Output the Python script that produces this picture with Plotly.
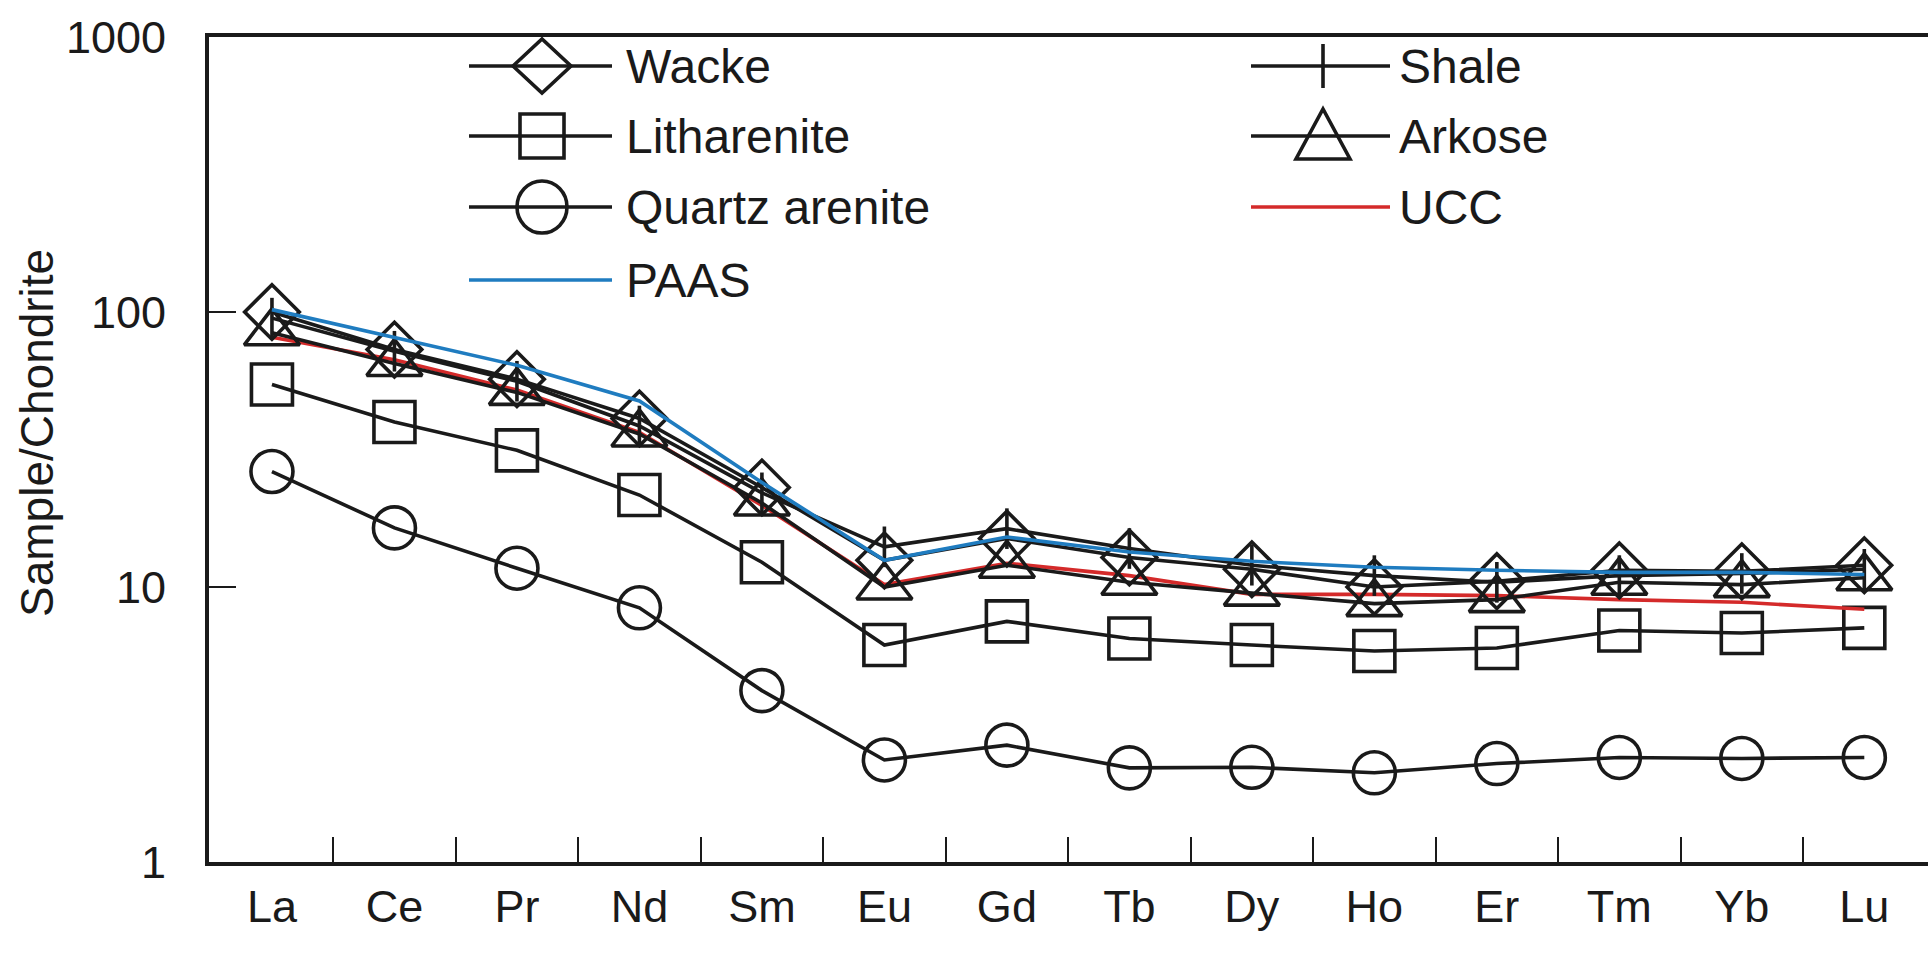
import plotly.graph_objects as go

# Chondrite-normalised REE values
elements = ["La", "Ce", "Pr", "Nd", "Sm", "Eu", "Gd", "Tb", "Dy", "Ho", "Er", "Tm", "Yb", "Lu"]

wacke = [100, 73, 57, 41, 23, 12.5, 15.0, 12.8, 11.6, 10.0, 10.5, 11.5, 11.4, 12.0]
shale = [95, 72, 56, 38.5, 22, 14.0, 16.3, 13.8, 12.0, 11.0, 10.4, 11.0, 11.2, 11.6]
arkose = [84, 65, 51, 36, 20.2, 10.0, 12.0, 10.4, 9.5, 8.7, 9.0, 10.4, 10.2, 10.8]
litharenite = [54.5, 39.8, 31.4, 21.6, 12.3, 6.15, 7.5, 6.5, 6.15, 5.85, 6.0, 6.95, 6.8, 7.1]
quartz_arenite = [26.3, 16.4, 11.7, 8.4, 4.2, 2.35, 2.66, 2.2, 2.21, 2.11, 2.28, 2.4, 2.38, 2.4]
ucc = [81, 67, 52, 36.5, 19.8, 10.2, 12.2, 11.0, 9.4, 9.4, 9.3, 9.0, 8.8, 8.3]
paas = [102, 81, 64, 47.5, 24, 12.5, 15.2, 13.4, 12.4, 11.8, 11.5, 11.3, 11.3, 11.1]

y_tick_values = [1, 10, 100, 1000]
y_tick_text = ["1", "10", "100", "1000"]

FONT = "Liberation Sans, Arial, Helvetica, sans-serif"
INK = "#1a1a1a"
BLUE = "#1f7cc0"
RED = "#d42a2a"

W, H = 1928, 959
L, R, T, B = 209, 0, 37, 97
PW, PH = W - L - R, H - T - B

LW = 3.6  # stroke width for lines and marker outlines

x_idx = list(range(len(elements)))

# series: name, values, plot symbol, marker size, line colour, legend glyph
series = [
    ("Quartz arenite", quartz_arenite, "circle-open", 42, INK, "circle"),
    ("Litharenite", litharenite, "square-open", 41, INK, "square"),
    ("UCC", ucc, None, 0, RED, None),
    ("Arkose", arkose, "triangle-up-open", 48, INK, "triangle"),
    ("Wacke", wacke, "diamond-open", 42, INK, "diamond"),
    ("Shale", shale, "line-ns-open", 29, INK, "tick"),
    ("PAAS", paas, None, 0, BLUE, None),
]

fig = go.Figure()
for name, vals, sym, size, col, _ in series:
    if sym:
        fig.add_trace(go.Scatter(
            x=x_idx, y=vals, name=name, mode="lines+markers",
            line=dict(color=col, width=LW),
            marker=dict(symbol=sym, size=size, color=INK,
                        line=dict(color=INK, width=LW)),
            showlegend=False,
        ))
    else:
        fig.add_trace(go.Scatter(
            x=x_idx, y=vals, name=name, mode="lines",
            line=dict(color=col, width=LW), showlegend=False,
        ))


def px(xp):
    return (xp - L) / PW


def py(yp):
    return (H - B - yp) / PH


# hand-built two-column key with long sample lines:
# (line start, line end, glyph centre, row y, text start) in pixels
key_slots = {
    "Wacke": (469, 612, 542, 66, 624),
    "Litharenite": (469, 612, 542, 136, 624),
    "Quartz arenite": (469, 612, 542, 207, 624),
    "PAAS": (469, 612, 542, 280, 624),
    "Shale": (1251, 1390, 1323, 66, 1397),
    "Arkose": (1251, 1390, 1323, 136, 1397),
    "UCC": (1251, 1390, 1323, 207, 1397),
}
glyph_paths = {
    "diamond": "M-29,0 L0,27 L29,0 L0,-27 Z",
    "triangle": "M-27,-23 L27,-23 L0,27 Z",
}

shapes = []
annotations = []
for name, vals, sym, size, col, glyph in series:
    x0, x1, xm, yrow, xt = key_slots[name]
    shapes.append(dict(type="line", xref="paper", yref="paper",
                       x0=px(x0), x1=px(x1), y0=py(yrow), y1=py(yrow),
                       line=dict(color=col, width=LW)))
    anchor = dict(xref="paper", yref="paper", xsizemode="pixel", ysizemode="pixel",
                  xanchor=px(xm), yanchor=py(yrow), line=dict(color=INK, width=LW))
    if glyph in glyph_paths:
        shapes.append(dict(type="path", path=glyph_paths[glyph], **anchor))
    elif glyph == "square":
        shapes.append(dict(type="rect", x0=-22, x1=22, y0=-22, y1=22, **anchor))
    elif glyph == "circle":
        shapes.append(dict(type="circle", x0=-25, x1=25, y0=-26, y1=26, **anchor))
    elif glyph == "tick":
        shapes.append(dict(type="line", x0=0, x1=0, y0=-22, y1=22, **anchor))
    annotations.append(dict(xref="paper", yref="paper", x=px(xt), y=py(yrow),
                            xanchor="left", yanchor="middle", showarrow=False,
                            text=name, font=dict(family=FONT, size=48, color=INK)))

# vertical axis caption
annotations.append(dict(xref="paper", yref="paper", x=px(37), y=py(433),
                        xanchor="center", yanchor="middle", showarrow=False,
                        textangle=-90, text="Sample/Chondrite",
                        font=dict(family=FONT, size=46, color=INK)))

fig.update_layout(
    width=W, height=H,
    margin=dict(l=L, r=R, t=T, b=B, pad=0, autoexpand=False),
    paper_bgcolor="white", plot_bgcolor="white",
    font=dict(family=FONT, size=45, color=INK),
    shapes=shapes, annotations=annotations,
    showlegend=False,
)

fig.update_xaxes(
    automargin=False,
    range=[-0.514, 13.52],
    tickvals=x_idx, ticktext=elements,
    ticks="", showgrid=False, zeroline=False,
    showline=True, linewidth=4, linecolor=INK, mirror=True,
    tickfont=dict(family=FONT, size=45, color=INK),
    ticklabelstandoff=2,
    minor=dict(tickvals=[i + 0.5 for i in x_idx[:-1]], ticks="inside",
               ticklen=25, tickwidth=2, tickcolor=INK, showgrid=False),
)

fig.update_yaxes(
    automargin=False,
    type="log", range=[0, 3],
    tickvals=y_tick_values, ticktext=y_tick_text,
    ticks="inside", ticklen=27, tickwidth=2, tickcolor=INK,
    showgrid=False, zeroline=False,
    showline=True, linewidth=4, linecolor=INK,
    tickfont=dict(family=FONT, size=45, color=INK),
    ticklabelstandoff=30,
)

fig.write_html("out.html")
